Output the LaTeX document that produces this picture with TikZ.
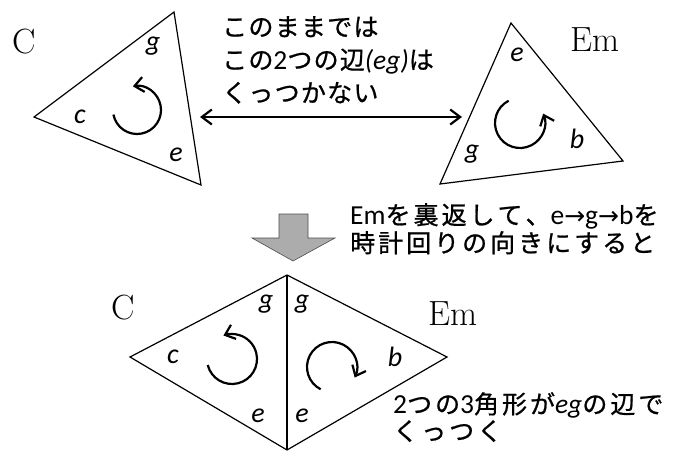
\documentclass[tikz,border=0pt]{standalone}
\usepackage{fontspec}
\newfontfamily\jpfont[LetterSpace=5,FakeBold=0.8,Kerning=Off]{Noto Sans CJK JP}
\newfontfamily\jpwide[LetterSpace=12,FakeBold=0.8,Kerning=Off]{Noto Sans CJK JP}
\newfontfamily\calfont{Carlito}
\newfontfamily\latfont[Scale=1.1]{Carlito}
\newfontfamily\arrfont{DejaVu Sans}
\newcommand{\vlab}{\calfont\itshape\fontsize{28}{28}\selectfont}
\newcommand{\lat}[1]{{\latfont #1}}
\newcommand{\latit}[1]{{\latfont\itshape #1}}
\newcommand{\rarr}{{\arrfont →}}
\usetikzlibrary{arrows.meta,positioning,calc}

\begin{document}
\begin{tikzpicture}[x=1pt,y=-1pt,
  tri/.style={line width=1.2pt,line join=miter},
  title/.style={font=\fontsize{35}{35}\selectfont,anchor=base,inner sep=0pt},
  vtx/.style={font=\vlab,anchor=mid,inner sep=0pt},
  turn/.style={line width=2.2pt,-{Straight Barb[length=9pt,width=15pt]}},
  link/.style={line width=2.2pt,{Straight Barb[length=10pt,width=15pt]}-{Straight Barb[length=10pt,width=15pt]}},
  note/.style={anchor=north west,inner sep=0pt,align=left},
  flip/.style={fill=gray!65,draw=gray!60!black,line width=0.6pt},
]
\useasboundingbox (0,0) rectangle (679,452);

\coordinate (ca) at (34,117);
\coordinate (cb) at (174,12);
\coordinate (cc) at (201,185);
\coordinate (ea) at (511,23);
\coordinate (eb) at (440,184);
\coordinate (ec) at (623,161);
\coordinate (bt) at (287,275);
\coordinate (bb) at (287,450);
\coordinate (bl) at (130,357);
\coordinate (br) at (447,357);
\coordinate (al) at (200,117);
\coordinate (ar) at (462,117);
\coordinate (tc1) at (137,110);
\coordinate (te1) at (520,123);
\coordinate (tc2) at (232,359);
\coordinate (te2) at (332,367);

\draw[tri] (ca) -- (cb) -- (cc) -- cycle;
\draw[tri] (ea) -- (eb) -- (ec) -- cycle;
\draw[tri] (bt) -- (bl) -- (bb);
\draw[tri] (bt) -- (br) -- (bb);
\draw[line width=2pt] (bt) -- (bb);

\node[title] (cn1) at (24,53)   {C};
\node[title] (en1) at (595,52)  {Em};
\node[title] (cn2) at (123,319) {C};
\node[title] (en2) at (453,325) {Em};

\node[vtx] (g1) at (153,48)  {g};
\node[vtx] (c1) at (80,121)  {c};
\node[vtx] (e1) at (176,159) {e};
\node[vtx] (e2) at (517,59)  {e};
\node[vtx] (g2) at (472,156) {g};
\node[vtx] (b2) at (577,146) {b};
\node[vtx] (g3) at (266,306) {g};
\node[vtx] (c3) at (173,361) {c};
\node[vtx] (e3) at (258,420) {e};
\node[vtx] (g4) at (302,306) {g};
\node[vtx] (b4) at (395,364) {b};
\node[vtx] (e4) at (302,420) {e};

\draw[turn] ($(tc1)+(169:24)$) arc[start angle=169,end angle=-100,radius=24];
\draw[turn] ($(te1)+(243:25)$) arc[start angle=243,end angle=-22,radius=25];
\draw[turn] ($(tc2)+(166:25)$) arc[start angle=166,end angle=-110,radius=25];
\draw[turn] ($(te2)+(117:25)$) arc[start angle=117,end angle=385,radius=25];

\draw[link] (al) -- (ar);

\draw[flip] (279,214) -- (308,214) -- (308,238) -- (335,238) -- (293,261)
  -- (252,238) -- (279,238) -- cycle;

\node[note,font=\jpfont\fontsize{25}{33}\selectfont] (t1) at (222,16)
  {このままでは\\この\lat{2}つの辺\latit{(eg)}は\\くっつかない};
\node[note,font=\jpwide\fontsize{25}{28}\selectfont] (t2) at (350,203)
  {\lat{Em}を裏返して、\lat{e}\rarr\lat{g}\rarr\lat{b}を\\時計回りの向きにすると};
\node[note,font=\jpwide\fontsize{25}{27}\selectfont] (t3) at (393,392)
  {\lat{2}つの\lat{3}角形が\latit{eg}の辺で\\くっつく};
\end{tikzpicture}
\end{document}
